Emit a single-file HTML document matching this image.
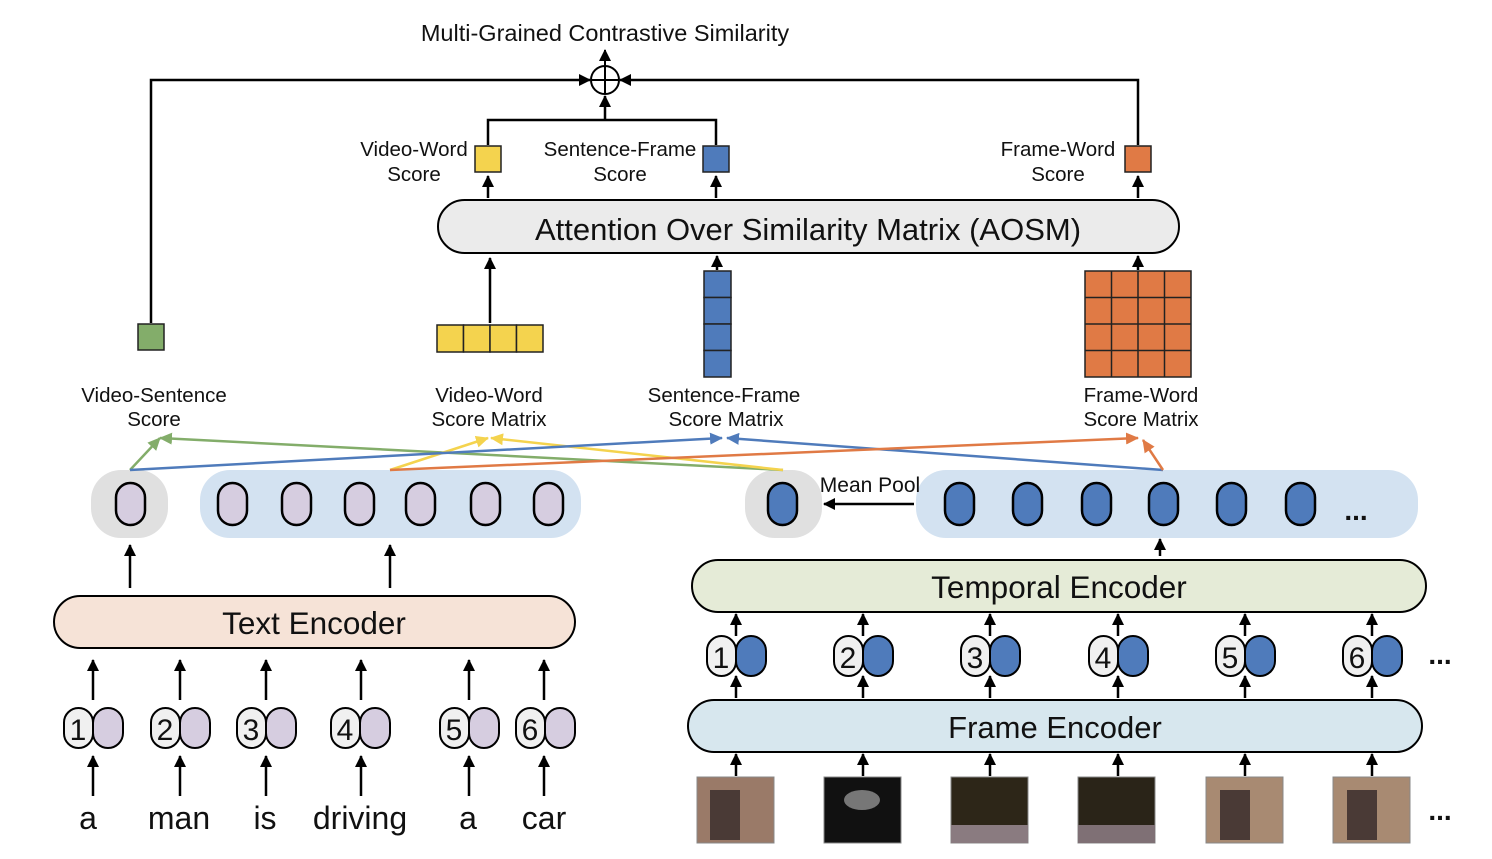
<!DOCTYPE html>
<html><head><meta charset="utf-8"><style>
body{margin:0;background:#fff}
svg text{font-family:"Liberation Sans",sans-serif;fill:#111}
</style></head><body>
<svg width="1492" height="854" viewBox="0 0 1492 854" xmlns="http://www.w3.org/2000/svg">
<defs>
<marker id="ag" markerWidth="14" markerHeight="12" refX="12" refY="6" orient="auto" markerUnits="userSpaceOnUse"><path d="M0,0 L13,6 L0,12 z" fill="#83ad6a"/></marker>
<marker id="ay" markerWidth="14" markerHeight="12" refX="12" refY="6" orient="auto" markerUnits="userSpaceOnUse"><path d="M0,0 L13,6 L0,12 z" fill="#f4d34e"/></marker>
<marker id="ab" markerWidth="14" markerHeight="12" refX="12" refY="6" orient="auto" markerUnits="userSpaceOnUse"><path d="M0,0 L13,6 L0,12 z" fill="#4f7bbb"/></marker>
<marker id="ao" markerWidth="14" markerHeight="12" refX="12" refY="6" orient="auto" markerUnits="userSpaceOnUse"><path d="M0,0 L13,6 L0,12 z" fill="#e07a45"/></marker>
<marker id="ak" markerWidth="12" markerHeight="12" refX="11" refY="6" orient="auto" markerUnits="userSpaceOnUse"><path d="M0,0 L12,6 L0,12 z" fill="#000"/></marker>
</defs>

<text x="605" y="41" font-size="23.5" text-anchor="middle">Multi-Grained Contrastive Similarity</text>
<circle cx="605" cy="80" r="14" fill="#fff" stroke="#000" stroke-width="2"/>
<line x1="591" y1="80" x2="619" y2="80" stroke="#000" stroke-width="2"/>
<line x1="605" y1="66" x2="605" y2="94" stroke="#000" stroke-width="2"/>
<line x1="605" y1="66" x2="605" y2="50" stroke="#000" stroke-width="2" marker-end="url(#ak)"/>
<polyline points="151,323 151,80 590,80" fill="none" stroke="#000" stroke-width="2.5" marker-end="url(#ak)"/>
<polyline points="1138,145 1138,80 620,80" fill="none" stroke="#000" stroke-width="2.5" marker-end="url(#ak)"/>
<polyline points="488,145 488,120 716,120 716,145" fill="none" stroke="#000" stroke-width="2.5"/>
<line x1="605" y1="120" x2="605" y2="96" stroke="#000" stroke-width="2.5" marker-end="url(#ak)"/>

<g font-size="20.5" text-anchor="middle">
<text x="414" y="156">Video-Word</text>
<text x="414" y="181">Score</text>
<text x="620" y="156">Sentence-Frame</text>
<text x="620" y="181">Score</text>
<text x="1058" y="156">Frame-Word</text>
<text x="1058" y="181">Score</text>
</g>
<rect x="475" y="146" width="26" height="26" fill="#f4d34e" stroke="#222" stroke-width="1.5"/>
<rect x="703" y="146" width="26" height="26" fill="#4f7bbb" stroke="#222" stroke-width="1.5"/>
<rect x="1125" y="146" width="26" height="26" fill="#e07a45" stroke="#222" stroke-width="1.5"/>
<line x1="488" y1="198" x2="488" y2="176" stroke="#000" stroke-width="2.5" marker-end="url(#ak)"/>
<line x1="716" y1="198" x2="716" y2="176" stroke="#000" stroke-width="2.5" marker-end="url(#ak)"/>
<line x1="1138" y1="198" x2="1138" y2="176" stroke="#000" stroke-width="2.5" marker-end="url(#ak)"/>

<rect x="438" y="200" width="741" height="53" rx="26.5" fill="#ebebeb" stroke="#000" stroke-width="2"/>
<text x="808" y="240" font-size="31" text-anchor="middle">Attention Over Similarity Matrix (AOSM)</text>

<line x1="490" y1="323" x2="490" y2="258" stroke="#000" stroke-width="2.5" marker-end="url(#ak)"/>
<line x1="717" y1="270" x2="717" y2="256" stroke="#000" stroke-width="2.5" marker-end="url(#ak)"/>
<line x1="1138" y1="270" x2="1138" y2="256" stroke="#000" stroke-width="2.5" marker-end="url(#ak)"/>

<rect x="138" y="324" width="26" height="26" fill="#83ad6a" stroke="#222" stroke-width="1.5"/>
<g fill="#f4d34e" stroke="#222" stroke-width="1.5">
<rect x="437" y="325" width="26.5" height="27"/><rect x="463.5" y="325" width="26.5" height="27"/><rect x="490" y="325" width="26.5" height="27"/><rect x="516.5" y="325" width="26.5" height="27"/></g>
<g fill="#4f7bbb" stroke="#222" stroke-width="1.5">
<rect x="704" y="271" width="27" height="26.5"/><rect x="704" y="297.5" width="27" height="26.5"/><rect x="704" y="324" width="27" height="26.5"/><rect x="704" y="350.5" width="27" height="26.5"/></g>
<g fill="#e07a45" stroke="#222" stroke-width="1.5">
<rect x="1085" y="271" width="106" height="106"/>
<path d="M1111.5,271V377M1138,271V377M1164.5,271V377M1085,297.5H1191M1085,324H1191M1085,350.5H1191" fill="none"/></g>

<g font-size="20.5" text-anchor="middle">
<text x="154" y="402">Video-Sentence</text><text x="154" y="426">Score</text>
<text x="489" y="402">Video-Word</text><text x="489" y="426">Score Matrix</text>
<text x="724" y="402">Sentence-Frame</text><text x="726" y="426">Score Matrix</text>
<text x="1141" y="402">Frame-Word</text><text x="1141" y="426">Score Matrix</text>
</g>

<rect x="91" y="470" width="77" height="68" rx="30" fill="#e0e0e0"/>
<rect x="200" y="470" width="381" height="68" rx="30" fill="#d3e2f1"/>
<rect x="745" y="470" width="77" height="68" rx="30" fill="#e0e0e0"/>
<rect x="916" y="470" width="502" height="68" rx="30" fill="#d3e2f1"/>
<g fill="#d6cde0" stroke="#000" stroke-width="2.5">
<rect x="116" y="483" width="29" height="42" rx="14.5"/>
<rect x="218" y="483" width="29" height="42" rx="14.5"/><rect x="282" y="483" width="29" height="42" rx="14.5"/><rect x="345" y="483" width="29" height="42" rx="14.5"/><rect x="406" y="483" width="29" height="42" rx="14.5"/><rect x="471" y="483" width="29" height="42" rx="14.5"/><rect x="534" y="483" width="29" height="42" rx="14.5"/>
</g>
<g fill="#4f7bbb" stroke="#000" stroke-width="2.5">
<rect x="768" y="483" width="29" height="42" rx="14.5"/>
<rect x="945" y="483" width="29" height="42" rx="14.5"/><rect x="1013" y="483" width="29" height="42" rx="14.5"/><rect x="1082" y="483" width="29" height="42" rx="14.5"/><rect x="1149" y="483" width="29" height="42" rx="14.5"/><rect x="1217" y="483" width="29" height="42" rx="14.5"/><rect x="1286" y="483" width="29" height="42" rx="14.5"/>
</g>
<text x="1356" y="520" font-size="28" font-weight="bold" text-anchor="middle">...</text>
<text x="870" y="492" font-size="21" text-anchor="middle">Mean Pool</text>
<line x1="914" y1="504" x2="824" y2="504" stroke="#000" stroke-width="2.5" marker-end="url(#ak)"/>

<g stroke-width="2.5" fill="none">
<line x1="130" y1="470" x2="160" y2="438" stroke="#83ad6a" marker-end="url(#ag)"/>
<line x1="783" y1="470" x2="160" y2="438" stroke="#83ad6a" marker-end="url(#ag)"/>
<line x1="390" y1="470" x2="488" y2="438" stroke="#f4d34e" marker-end="url(#ay)"/>
<line x1="783" y1="470" x2="491" y2="438" stroke="#f4d34e" marker-end="url(#ay)"/>
<line x1="130" y1="470" x2="722" y2="438" stroke="#4f7bbb" marker-end="url(#ab)"/>
<line x1="1163" y1="470" x2="727" y2="438" stroke="#4f7bbb" marker-end="url(#ab)"/>
<line x1="390" y1="470" x2="1138" y2="438" stroke="#e07a45" marker-end="url(#ao)"/>
<line x1="1163" y1="470" x2="1143" y2="440" stroke="#e07a45" marker-end="url(#ao)"/>
</g>

<line x1="130" y1="588" x2="130" y2="545" stroke="#000" stroke-width="2.5" marker-end="url(#ak)"/>
<line x1="390" y1="588" x2="390" y2="545" stroke="#000" stroke-width="2.5" marker-end="url(#ak)"/>
<line x1="1160" y1="556" x2="1160" y2="539" stroke="#000" stroke-width="2.5" marker-end="url(#ak)"/>

<rect x="54" y="596" width="521" height="52" rx="26" fill="#f6e3d7" stroke="#000" stroke-width="2"/>
<text x="314" y="634" font-size="31.5" text-anchor="middle">Text Encoder</text>
<g stroke="#000" stroke-width="2.5">
<line x1="93" y1="700" x2="93" y2="660" marker-end="url(#ak)"/><line x1="180" y1="700" x2="180" y2="660" marker-end="url(#ak)"/><line x1="266" y1="700" x2="266" y2="660" marker-end="url(#ak)"/><line x1="361" y1="700" x2="361" y2="660" marker-end="url(#ak)"/><line x1="469" y1="700" x2="469" y2="660" marker-end="url(#ak)"/><line x1="544" y1="700" x2="544" y2="660" marker-end="url(#ak)"/>
<line x1="93" y1="796" x2="93" y2="756" marker-end="url(#ak)"/><line x1="180" y1="796" x2="180" y2="756" marker-end="url(#ak)"/><line x1="266" y1="796" x2="266" y2="756" marker-end="url(#ak)"/><line x1="361" y1="796" x2="361" y2="756" marker-end="url(#ak)"/><line x1="469" y1="796" x2="469" y2="756" marker-end="url(#ak)"/><line x1="544" y1="796" x2="544" y2="756" marker-end="url(#ak)"/>
</g>
<g stroke="#000" stroke-width="2">
<g fill="#d6cde0"><rect x="93" y="708" width="30" height="40" rx="15"/><rect x="180" y="708" width="30" height="40" rx="15"/><rect x="266" y="708" width="30" height="40" rx="15"/><rect x="360" y="708" width="30" height="40" rx="15"/><rect x="469" y="708" width="30" height="40" rx="15"/><rect x="545" y="708" width="30" height="40" rx="15"/></g>
<g fill="#f0f0f0"><rect x="64" y="708" width="29" height="40" rx="14.5"/><rect x="151" y="708" width="29" height="40" rx="14.5"/><rect x="237" y="708" width="29" height="40" rx="14.5"/><rect x="331" y="708" width="29" height="40" rx="14.5"/><rect x="440" y="708" width="29" height="40" rx="14.5"/><rect x="516" y="708" width="29" height="40" rx="14.5"/></g>
</g>
<g font-size="30" text-anchor="middle">
<text x="78" y="740">1</text><text x="165" y="740">2</text><text x="251" y="740">3</text><text x="345" y="740">4</text><text x="454" y="740">5</text><text x="530" y="740">6</text>
</g>
<g font-size="32" text-anchor="middle">
<text x="88" y="829">a</text><text x="179" y="829">man</text><text x="265" y="829">is</text><text x="360" y="829">driving</text><text x="468" y="829">a</text><text x="544" y="829">car</text>
</g>

<rect x="692" y="560" width="734" height="52" rx="26" fill="#e5ebd7" stroke="#000" stroke-width="2"/>
<text x="1059" y="598" font-size="31.5" text-anchor="middle">Temporal Encoder</text>
<rect x="688" y="700" width="734" height="52" rx="26" fill="#d7e7ee" stroke="#000" stroke-width="2"/>
<text x="1055" y="738" font-size="31" text-anchor="middle">Frame Encoder</text>
<g stroke="#000" stroke-width="2.5">
<line x1="736" y1="636" x2="736" y2="614" marker-end="url(#ak)"/><line x1="863" y1="636" x2="863" y2="614" marker-end="url(#ak)"/><line x1="990" y1="636" x2="990" y2="614" marker-end="url(#ak)"/><line x1="1118" y1="636" x2="1118" y2="614" marker-end="url(#ak)"/><line x1="1245" y1="636" x2="1245" y2="614" marker-end="url(#ak)"/><line x1="1372" y1="636" x2="1372" y2="614" marker-end="url(#ak)"/>
<line x1="736" y1="698" x2="736" y2="676" marker-end="url(#ak)"/><line x1="863" y1="698" x2="863" y2="676" marker-end="url(#ak)"/><line x1="990" y1="698" x2="990" y2="676" marker-end="url(#ak)"/><line x1="1118" y1="698" x2="1118" y2="676" marker-end="url(#ak)"/><line x1="1245" y1="698" x2="1245" y2="676" marker-end="url(#ak)"/><line x1="1372" y1="698" x2="1372" y2="676" marker-end="url(#ak)"/>
<line x1="736" y1="776" x2="736" y2="754" marker-end="url(#ak)"/><line x1="863" y1="776" x2="863" y2="754" marker-end="url(#ak)"/><line x1="990" y1="776" x2="990" y2="754" marker-end="url(#ak)"/><line x1="1118" y1="776" x2="1118" y2="754" marker-end="url(#ak)"/><line x1="1245" y1="776" x2="1245" y2="754" marker-end="url(#ak)"/><line x1="1372" y1="776" x2="1372" y2="754" marker-end="url(#ak)"/>
</g>
<g stroke="#000" stroke-width="2">
<g fill="#4f7bbb"><rect x="736" y="636" width="30" height="40" rx="15"/><rect x="863" y="636" width="30" height="40" rx="15"/><rect x="990" y="636" width="30" height="40" rx="15"/><rect x="1118" y="636" width="30" height="40" rx="15"/><rect x="1245" y="636" width="30" height="40" rx="15"/><rect x="1372" y="636" width="30" height="40" rx="15"/></g>
<g fill="#f0f0f0"><rect x="707" y="636" width="29" height="40" rx="14.5"/><rect x="834" y="636" width="29" height="40" rx="14.5"/><rect x="961" y="636" width="29" height="40" rx="14.5"/><rect x="1089" y="636" width="29" height="40" rx="14.5"/><rect x="1216" y="636" width="29" height="40" rx="14.5"/><rect x="1343" y="636" width="29" height="40" rx="14.5"/></g>
</g>
<g font-size="30" text-anchor="middle">
<text x="721" y="668">1</text><text x="848" y="668">2</text><text x="975" y="668">3</text><text x="1103" y="668">4</text><text x="1230" y="668">5</text><text x="1357" y="668">6</text>
</g>
<text x="1440" y="664" font-size="28" font-weight="bold" text-anchor="middle">...</text>
<text x="1440" y="820" font-size="28" font-weight="bold" text-anchor="middle">...</text>
<rect x="697" y="777" width="77" height="66" fill="#9a7a68" stroke="#888"/>
<rect x="710" y="790" width="30" height="50" fill="#4a3a36"/>
<rect x="824" y="777" width="77" height="66" fill="#111" stroke="#888"/>
<ellipse cx="862" cy="800" rx="18" ry="10" fill="#777"/>
<rect x="951" y="777" width="77" height="66" fill="#2d2618" stroke="#888"/>
<rect x="951" y="825" width="77" height="18" fill="#8a7b80"/>
<rect x="1078" y="777" width="77" height="66" fill="#2a2418" stroke="#888"/>
<rect x="1078" y="825" width="77" height="18" fill="#7f7075"/>
<rect x="1206" y="777" width="77" height="66" fill="#a88a72" stroke="#888"/>
<rect x="1220" y="790" width="30" height="50" fill="#4a3a36"/>
<rect x="1333" y="777" width="77" height="66" fill="#a88a72" stroke="#888"/>
<rect x="1347" y="790" width="30" height="50" fill="#4a3a36"/>
</svg>
</body></html>
